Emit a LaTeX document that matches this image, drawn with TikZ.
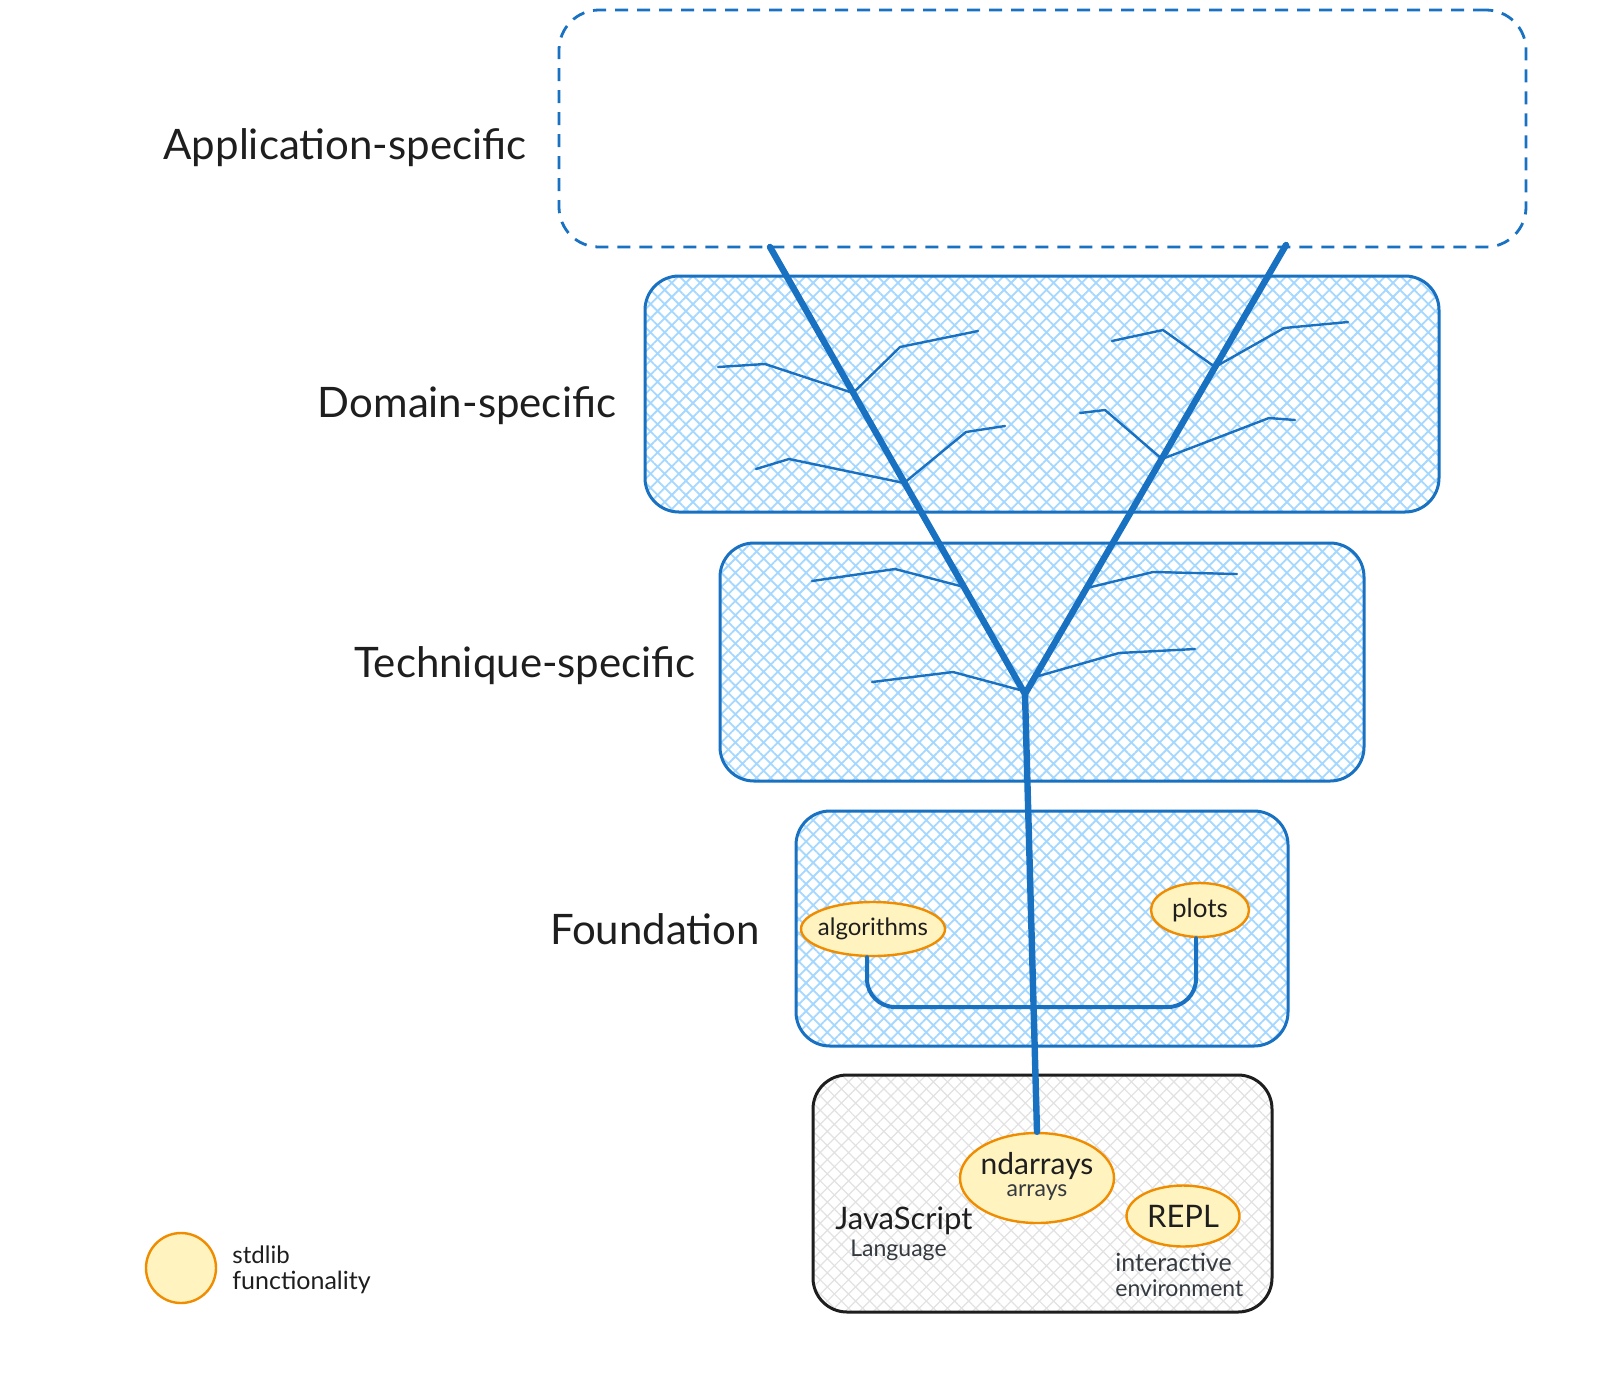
\documentclass[tikz,border=0pt]{standalone}
\usepackage{fontspec}
\setmainfont{Lato}
\usetikzlibrary{shapes.geometric,patterns.meta,calc}
\definecolor{exblue}{HTML}{1971C2}
\definecolor{hatchblue}{HTML}{A5D8FF}
\definecolor{exorange}{HTML}{F08C00}
\definecolor{exyellow}{HTML}{FFF3BF}
\definecolor{ink}{HTML}{1E1E1E}
\definecolor{subink}{HTML}{343A40}
\definecolor{hatchgray}{HTML}{E2E2E2}
\newcommand{\fs}[1]{\fontsize{#1}{#1}\selectfont}
\begin{document}
\begin{tikzpicture}[x=0.5pt,y=-0.5pt,
  layerbox/.style={draw=exblue, line width=1.5pt, rounded corners=17pt, inner sep=0pt,
    pattern={Hatch[angle=45,distance=5pt,line width=0.9pt]}, pattern color=hatchblue},
  basebox/.style={draw=ink, line width=1.5pt, rounded corners=17pt, inner sep=0pt,
    pattern={Hatch[angle=45,distance=5pt,line width=0.6pt]}, pattern color=hatchgray},
  appbox/.style={draw=exblue, line width=1.4pt, rounded corners=20pt, inner sep=0pt,
    dash pattern=on 6.5pt off 4.5pt},
  libnode/.style={ellipse, draw=exorange, line width=1.2pt, fill=exyellow, inner sep=0pt, text=ink},
  bigl/.style={text=ink, font=\fs{21pt}, inner sep=0pt},
  smalll/.style={text=ink, inner sep=0pt},
  trunk/.style={draw=exblue, line width=3.2pt, line cap=round, line join=round},
  twig/.style={draw=exblue, line width=1.2pt, line cap=round, line join=round},
  conn/.style={draw=exblue, line width=2pt, line cap=round, rounded corners=14pt}
]
\useasboundingbox (0,0) rectangle (1600,1393);
\fill[white] (0,0) rectangle (1600,1393);

% layer boxes
\node[appbox, minimum width=483.5pt, minimum height=118.5pt] (app) at (1042.5,128.5) {};
\node[layerbox, minimum width=397pt, minimum height=118pt] (dom) at (1042,394) {};
\node[layerbox, minimum width=322pt, minimum height=119pt] (tech) at (1042,662) {};
\node[layerbox, minimum width=246pt, minimum height=117.5pt] (found) at (1042,928.5) {};
\node[basebox, minimum width=229.5pt, minimum height=118.5pt] (js) at (1042.5,1193.5) {};

% labels
\node[bigl] (lapp) at (345,148) {Application-specific};
\node[bigl] (ldom) at (467,406) {Domain-specific};
\node[bigl] (ltech) at (525,666) {Technique-specific};
\node[bigl] (lfound) at (655,929) {Foundation};

% library nodes
\node[libnode, minimum width=72pt, minimum height=27pt,
  label={[font=\fs{12pt}, text=ink]center:algorithms}] (alg) at (873,929) {};
\node[libnode, minimum width=49pt, minimum height=27pt,
  label={[font=\fs{13pt}, text=ink]center:plots}] (plots) at (1200,910) {};
\node[libnode, minimum width=77pt, minimum height=45pt,
  label={[align=center, text=ink, yshift=1pt]center:{{\fs{15pt}ndarrays}\\[-1pt]{\fs{11.5pt}\color{subink}arrays}}}] (nd) at (1037,1178) {};
\node[libnode, minimum width=56.5pt, minimum height=30.5pt,
  label={[font=\fs{15.5pt}, text=ink]center:REPL}] (repl) at (1183,1216) {};

% base texts
\node[smalll, font=\fs{15.5pt}, anchor=west] (jsl) at (835,1221) {JavaScript};
\node[smalll, font=\fs{11.5pt}, anchor=west, text=subink] (lang) at (850,1250) {Language};
\node[smalll, font=\fs{12.5pt}, anchor=west, text=subink] (inter) at (1115,1262) {interactive};
\node[smalll, font=\fs{11.5pt}, anchor=west, text=subink] (env) at (1115,1288) {environment};

% legend
\node[libnode, circle, minimum size=35pt] (leg) at (181,1268) {};
\node[smalll, font=\fs{12pt}, anchor=west] (leg1) at (232,1255) {stdlib};
\node[smalll, font=\fs{12.5pt}, anchor=west] (leg2) at (232,1282) {functionality};

% trunk coordinates
\coordinate (tl) at (770,247);
\coordinate (tr) at (1286,245);
\coordinate (j) at (1025,694);
\coordinate (hy) at (0,1007);

% twigs domain
\draw[twig] (718,367) -- (765,364) -- (853,393) -- (900,347) -- (978,331);
\draw[twig] (756,469) -- (789,459) -- (904,483) -- (966,432) -- (1005,426);
\draw[twig] (1112,341) -- (1163,330) -- (1215,367) -- (1284,328) -- (1348,322);
\draw[twig] (1080,413) -- (1105,410) -- (1162,459) -- (1269,418) -- (1295,420);
% twigs technique
\draw[twig] (812,581) -- (895,569) -- (964,587);
\draw[twig] (1087,588) -- (1153,572) -- (1237,574);
\draw[twig] (872,682) -- (953,672) -- (1020,690);
\draw[twig] (1035,677) -- (1119,653) -- (1195,649);

% trunk
\draw[trunk] (tl) -- (j) -- (tr);
\draw[trunk] (j) -- (nd.north);

% foundation connector
\draw[conn] ([xshift=-3pt]alg.south) -- ([xshift=-3pt]alg.south |- hy) -- ([xshift=-2pt]plots.south |- hy) -- ([xshift=-2pt]plots.south);
\end{tikzpicture}
\end{document}
